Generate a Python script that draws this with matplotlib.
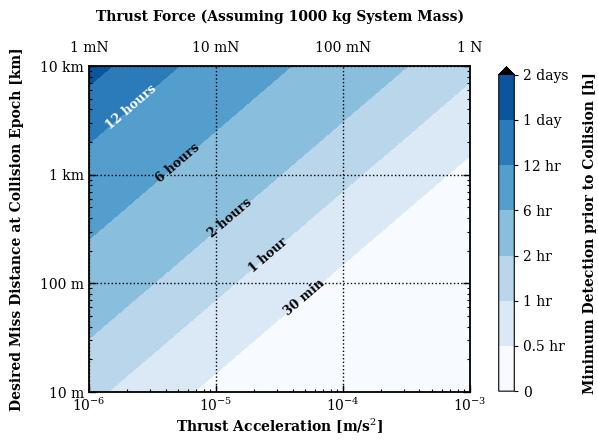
import numpy as np
import matplotlib.pyplot as plt
from matplotlib.ticker import NullLocator, NullFormatter

plt.rcParams['font.family'] = 'DejaVu Serif'
plt.rcParams['mathtext.fontset'] = 'dejavuserif'
plt.rcParams['font.size'] = 10

# contour boundaries as (miss distance / thrust acceleration) [s^2]
level_names = ['0', '0.5 hr', '1 hr', '2 hr', '6 hr', '12 hr', '1 day', '2 days']
level_ratio = [0, 1.5e6, 7.1e6, 3.1e7, 2.55e8, 1.95e9, 6.6e9, 2.5e10]

# inline labels on the contour boundaries
line_levels = [1.5e6, 7.1e6, 3.1e7, 2.55e8, 1.95e9]
line_names = ['30 min', '1 hour', '2 hours', '6 hours', '12 hours']
line_colors = ['k', 'k', 'k', 'k', 'w']
label_pos = [(4.6e-5, 82), (2.6e-5, 180), (1.3e-5, 390), (5.0e-6, 1280), (2.1e-6, 4300)]

accel_ticks = [1e-6, 1e-5, 1e-4, 1e-3]
force_labels = ['1 mN', '10 mN', '100 mN', '1 N']
dist_ticks = [10, 100, 1000, 10000]
dist_labels = ['10 m', '100 m', '1 km', '10 km']

band_colors = list(plt.cm.Blues(np.linspace(0, 6 / 7, 7))) + ['black']

fig = plt.figure(figsize=(5.98, 4.40), dpi=100)
ax = fig.add_axes([0.149, 0.109, 0.637, 0.741])
ax.set_xscale('log')
ax.set_yscale('log')

# grid of the plane; the field is just distance over acceleration
accel = np.logspace(-6, -3, 400)
dist = np.logspace(1, 4, 400)
A, D = np.meshgrid(accel, dist)
Z = D / A

cf = ax.contourf(A, D, Z, levels=level_ratio, colors=band_colors, extend='max')
cl = ax.contour(A, D, Z, levels=line_levels, linewidths=0)
texts = ax.clabel(cl, fmt=dict(zip(line_levels, line_names)), manual=label_pos,
                  colors=line_colors, fontsize=9, inline=True)
for t in texts:
    t.set_fontweight('bold')

ax.set_xlim(1e-6, 1e-3)
ax.set_ylim(10, 1e4)
ax.set_xticks(accel_ticks)
ax.set_yticks(dist_ticks, dist_labels)
ax.yaxis.set_minor_formatter(NullFormatter())
ax.tick_params(which='both', direction='in', top=True, right=True, labelsize=10)
ax.tick_params(which='major', length=5, width=1)
ax.tick_params(which='minor', length=2.5, width=0.8)
ax.grid(True, which='major', linestyle=':', color='k', linewidth=1)
for s in ax.spines.values():
    s.set_linewidth(1.3)

ax.set_xlabel('Thrust Acceleration [m/s$^2$]', fontweight='bold', labelpad=2)
ax.set_ylabel('Desired Miss Distance at Collision Epoch [km]', fontweight='bold', labelpad=12)

# top axis: same positions, labelled in thrust force for a 1000 kg system
ax2 = ax.twiny()
ax2.set_xscale('log')
ax2.set_xlim(ax.get_xlim())
ax2.set_xticks(accel_ticks, force_labels)
ax2.xaxis.set_minor_locator(NullLocator())
ax2.tick_params(length=0, labelsize=10, pad=8)
ax2.set_xlabel('Thrust Force (Assuming 1000 kg System Mass)', fontweight='bold', labelpad=14)
for s in ax2.spines.values():
    s.set_visible(False)

cax = fig.add_axes([0.834, 0.111, 0.026, 0.737])
cb = fig.colorbar(cf, cax=cax, extendfrac=0.025)
cb.set_ticks(level_ratio)
cb.set_ticklabels(level_names)
cb.ax.tick_params(labelsize=10, length=3)
cb.ax.minorticks_off()
cb.set_label('Minimum Detection prior to Collision [h]', fontweight='bold', labelpad=10)

fig.savefig('out.png', dpi=100)
